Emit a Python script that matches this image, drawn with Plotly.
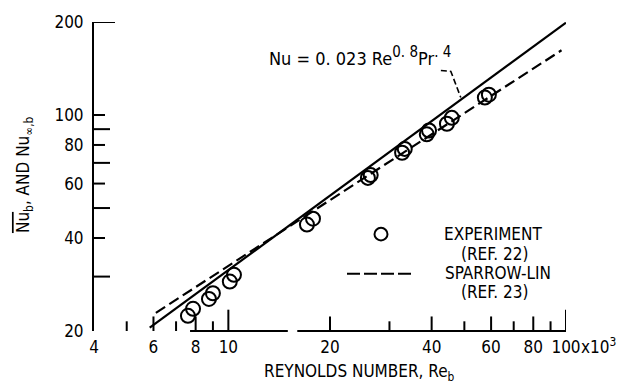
import math
import plotly.graph_objects as go

# Experimental heat-transfer data (Re in thousands, Nu)
re_exp = [7.59, 7.86, 8.76, 9.00, 10.1, 10.39, 17.09, 17.81, 25.9, 26.4,
          32.7, 33.3, 38.7, 39.3, 44.4, 45.9, 57.5, 59.1]
nu_exp = [22.4, 23.6, 25.4, 26.5, 28.9, 30.4, 44.2, 46.2, 62.6, 63.9,
          75.5, 77.7, 86.6, 89.1, 93.7, 97.9, 113.9, 116.4]

# Dittus-Boelter correlation line (end points)
re_db = [5.85, 100.0]
nu_db = [20.5, 199.0]

# Sparrow-Lin prediction (end points)
re_sl = [6.1, 97.0]
nu_sl = [22.9, 162.0]

# Leader from the correlation label to its line
re_lead = [42.6, 45.6, 48.8]
nu_lead = [139.4, 138.4, 113.9]

# Axis ticks
x_major = [6, 8, 20, 40, 60, 80]
x_long = [10, 100]
x_minor = [5, 7, 9, 30, 50, 70, 90]
x_labels = [4, 6, 8, 10, 20, 40, 60, 80, 100]
y_major = [40, 60, 80, 100]
y_minor = [30, 50, 70, 90]
y_top = [200]
y_labels = [20, 40, 60, 80, 100, 200]

FONT = "Liberation Sans Narrow, DejaVu Sans Condensed, Arial Narrow, sans-serif"
W, H = 619, 386
L, R, T, B = 94, 566, 12, 331
PW, PH = R - L, B - T


def px(x):
    return (x - L) / PW


def py(y):
    return (B - y) / PH


fig = go.Figure()

fig.add_trace(go.Scatter(x=re_db, y=nu_db, mode="lines",
                         line=dict(color="black", width=2.2)))
fig.add_trace(go.Scatter(x=re_sl, y=nu_sl, mode="lines",
                         line=dict(color="black", width=2.2, dash="11px,5px")))
fig.add_trace(go.Scatter(x=re_lead, y=nu_lead, mode="lines",
                         line=dict(color="black", width=1.6, dash="6px,3px")))
fig.add_trace(go.Scatter(x=re_exp, y=nu_exp, mode="markers",
                         marker=dict(symbol="circle-open", size=14, color="black",
                                     line=dict(color="black", width=2))))

shapes = []
line_k = dict(color="black", width=2)
# x-axis base line (broken in the original drawing)
shapes.append(dict(type="line", xref="x", yref="paper", x0=7.7, x1=15.0, y0=0, y1=0, line=line_k))
shapes.append(dict(type="line", xref="x", yref="paper", x0=16.0, x1=100, y0=0, y1=0, line=line_k))
for v in x_major:
    shapes.append(dict(type="line", xref="x", yref="paper", x0=v, x1=v, y0=0, y1=15 / PH, line=line_k))
for v in x_long:
    shapes.append(dict(type="line", xref="x", yref="paper", x0=v, x1=v, y0=0, y1=22 / PH, line=line_k))
for v in x_minor:
    shapes.append(dict(type="line", xref="x", yref="paper", x0=v, x1=v, y0=0, y1=10 / PH, line=line_k))
for v in y_major:
    shapes.append(dict(type="line", xref="paper", yref="y", x0=0, x1=11 / PW, y0=v, y1=v, line=line_k))
for v in y_minor:
    shapes.append(dict(type="line", xref="paper", yref="y", x0=0, x1=16 / PW, y0=v, y1=v, line=line_k))
for v in y_top:
    shapes.append(dict(type="line", xref="paper", yref="y", x0=0, x1=21 / PW, y0=v, y1=v, line=line_k))

# legend glyphs
shapes.append(dict(type="circle", xref="paper", yref="paper",
                   x0=px(374.5), x1=px(387.5), y0=py(237.5), y1=py(224.5),
                   line=dict(color="black", width=2)))
shapes.append(dict(type="line", xref="paper", yref="paper",
                   x0=px(347), x1=px(412), y0=py(272), y1=py(272),
                   line=dict(color="black", width=2, dash="13px,4px")))

ann = []
tf = dict(family=FONT, size=17, color="black")
sup = "<sup><span style='font-size:15px'>{}</span></sup>"
ann.append(dict(text="Nu = 0. 023 Re" + sup.format("0. 8") + "Pr" + sup.format(". 4"),
                xref="paper", yref="paper",
                x=px(267), y=py(60), xanchor="left", yanchor="bottom", showarrow=False,
                yshift=-3, font=dict(family=FONT, size=18, color="black")))
ann.append(dict(text="EXPERIMENT", xref="paper", yref="paper", x=px(442), y=py(231),
                xanchor="left", yanchor="middle", showarrow=False, font=tf))
ann.append(dict(text="(REF. 22)", xref="paper", yref="paper", x=px(459), y=py(252),
                xanchor="left", yanchor="middle", showarrow=False, font=tf))
ann.append(dict(text="SPARROW-LIN", xref="paper", yref="paper", x=px(443), y=py(271),
                xanchor="left", yanchor="middle", showarrow=False, font=tf))
ann.append(dict(text="(REF. 23)", xref="paper", yref="paper", x=px(459), y=py(291),
                xanchor="left", yanchor="middle", showarrow=False, font=tf))
ann.append(dict(text="x10<sup>3</sup>", xref="paper", yref="paper", x=px(579), y=py(346),
                xanchor="left", yanchor="middle", showarrow=False, font=tf))
ann.append(dict(text="REYNOLDS NUMBER, Re<sub>b</sub>", xref="paper", yref="paper",
                x=px(359), y=py(374), xanchor="center", yanchor="middle", showarrow=False, font=tf))
ann.append(dict(text="<span style='text-decoration:overline'>Nu</span><sub>b</sub>, AND Nu<sub>\u221e,b</sub>",
                xref="paper", yref="paper", x=px(24), y=py(170), textangle=-90,
                xanchor="center", yanchor="middle", showarrow=False, font=tf))

fig.update_layout(
    width=W, height=H,
    margin=dict(l=L, r=W - R, t=T, b=H - B, pad=0),
    paper_bgcolor="white", plot_bgcolor="white",
    showlegend=False,
    shapes=shapes, annotations=ann,
    font=dict(family=FONT, size=17, color="black"),
    xaxis=dict(type="log", range=[math.log10(4), 2],
               tickvals=x_labels, ticktext=[str(v) for v in x_labels],
               ticks="", showline=False, showgrid=False, zeroline=False,
               tickfont=tf, ticklabelstandoff=4),
    yaxis=dict(type="log", range=[math.log10(20), math.log10(200)],
               tickvals=y_labels, ticktext=[str(v) for v in y_labels],
               ticks="", showline=True, linecolor="black", linewidth=2,
               showgrid=False, zeroline=False, tickfont=tf, ticklabelstandoff=5),
)

fig.write_html("out.html")
